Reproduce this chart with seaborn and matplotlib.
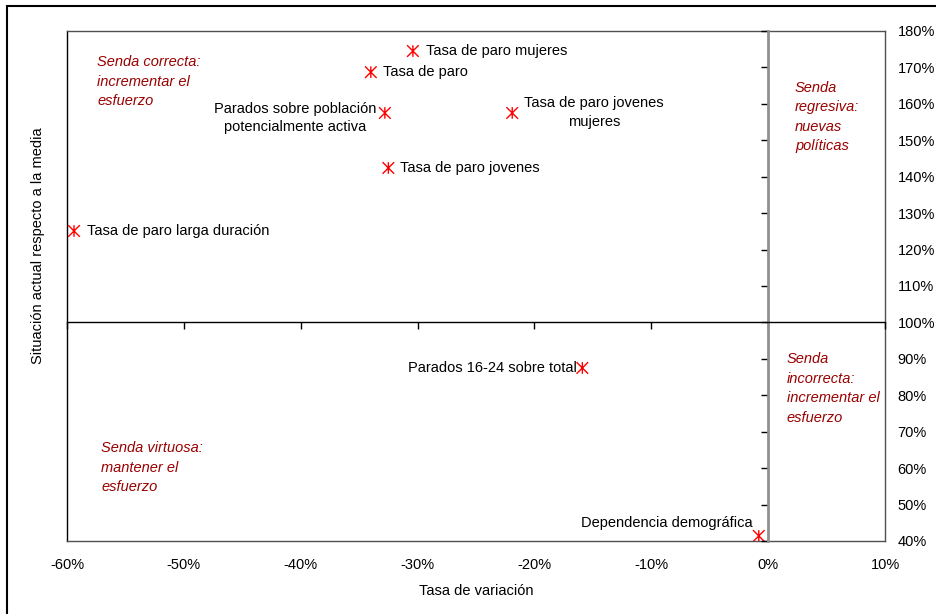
import numpy as np
import pandas as pd
import matplotlib
matplotlib.use("Agg")
import matplotlib.pyplot as plt
import seaborn as sns
from matplotlib.path import Path
from matplotlib.patches import Rectangle
from matplotlib.ticker import PercentFormatter, MultipleLocator

# ---- data ----
indicators = [
    "Tasa de paro mujeres",
    "Tasa de paro",
    "Parados sobre población\npotencialmente activa",
    "Tasa de paro jovenes\nmujeres",
    "Tasa de paro jovenes",
    "Tasa de paro larga duración",
    "Parados 16-24 sobre total",
    "Dependencia demográfica",
]
variation = [-30.4, -34.0, -32.8, -21.9, -32.5, -59.4, -15.9, -0.8]       # Tasa de variación (%)
situation = [174.5, 168.7, 157.5, 157.5, 142.4, 125.1, 87.5, 41.4]        # Situación actual (% media)

quadrant_labels = [
    "Senda correcta:\nincrementar el\nesfuerzo",
    "Senda\nregresiva:\nnuevas\npolíticas",
    "Senda\nincorrecta:\nincrementar el\nesfuerzo",
    "Senda virtuosa:\nmantener el\nesfuerzo",
]
x_label = "Tasa de variación"
y_label = "Situación actual respecto a la media"

# ---- style ----
sns.set_theme(style="white")
plt.rcParams["font.family"] = ["Liberation Sans", "DejaVu Sans"]
plt.rcParams["axes.unicode_minus"] = False
FS = 10.5

df = pd.DataFrame({"indicador": indicators, "x": variation, "y": situation})

fig = plt.figure(figsize=(9.36, 6.14), dpi=100)
pos = [67 / 936, 1 - 541 / 614, 818 / 936, 510 / 614]
ax = fig.add_axes(pos)

star = Path(
    [(-1, -1), (1, 1), (-1, 1), (1, -1), (0, -1), (0, 1)],
    [Path.MOVETO, Path.LINETO, Path.MOVETO, Path.LINETO, Path.MOVETO, Path.LINETO],
)
sns.scatterplot(data=df, x="x", y="y", ax=ax, marker=star, s=70,
                color="red", facecolor="none", edgecolor="red", linewidth=1.0,
                zorder=5, legend=False)

ax.set_xlim(-60, 10)
ax.set_ylim(40, 180)
ax.xaxis.set_major_locator(MultipleLocator(10))
ax.yaxis.set_major_locator(MultipleLocator(10))
ax.xaxis.set_major_formatter(PercentFormatter(100, decimals=0))
ax.yaxis.set_major_formatter(PercentFormatter(100, decimals=0))
ax.yaxis.tick_right()
ax.tick_params(axis="x", length=0, pad=12, labelsize=FS, colors="black")
ax.tick_params(axis="y", length=0, pad=9, labelsize=FS, colors="black",
               left=False, labelleft=False, right=False, labelright=True)
ax.set_xlabel(x_label, fontsize=FS, labelpad=9, color="black")
ax.set_ylabel(y_label, fontsize=FS, color="black")
ax.yaxis.set_label_position("left")
ax.yaxis.set_label_coords(-0.027, 0.58)
for sp in ax.spines.values():
    sp.set_color("#505050")
    sp.set_linewidth(1.0)
ax.spines["left"].set_color("black")

# overlay axes for crossing axis lines at (0%, 100%)
ax2 = fig.add_axes(pos, frameon=True, sharex=ax, sharey=ax)
ax2.patch.set_visible(False)
for s in ["top", "right"]:
    ax2.spines[s].set_visible(False)
ax2.spines["bottom"].set_position(("data", 100))
ax2.spines["left"].set_position(("data", 0))
ax2.spines["bottom"].set_color("black")
ax2.spines["bottom"].set_linewidth(1.0)
ax2.spines["left"].set_color("#909090")
ax2.spines["left"].set_linewidth(2.0)
ax2.tick_params(axis="both", direction="out", length=5, width=1, color="black",
                labelbottom=False, labelleft=False, labelright=False, labeltop=False,
                bottom=True, left=True, right=False, top=False)
ax2.set_xlabel("")
ax2.set_ylabel("")

# point labels
offsets = {
    0: (9.4, 0, "left", "center"),
    1: (8.6, 0, "left", "center"),
    2: (-5.8, -3.6, "right", "center"),
    3: (8.6, 0.5, "left", "center"),
    4: (8.6, 0, "left", "center"),
    5: (9.4, 0, "left", "center"),
    6: (-3.6, 0, "right", "center"),
    7: (-4.3, 9.4, "right", "center"),
}
for i, row in df.iterrows():
    dx, dy, ha, va = offsets[i]
    ax.annotate(row["indicador"], (row["x"], row["y"]), xytext=(dx, dy),
                textcoords="offset points", ha=ha, va=va, multialignment="center",
                fontsize=FS, color="black", linespacing=1.42, zorder=6)

# quadrant annotations
qpos = [(0.0367, 0.952), (0.890, 0.902), (0.880, 0.370), (0.0416, 0.196)]
for txt, (qx, qy) in zip(quadrant_labels, qpos):
    ax.text(qx, qy, txt, transform=ax.transAxes, ha="left", va="top",
            fontsize=FS, style="italic", color="#990000", linespacing=1.5)

# outer chart frame
fig.patches.append(Rectangle((7 / 936, -0.1), 1.2, 1.1 - 6 / 614, transform=fig.transFigure,
                             fill=False, edgecolor="black", linewidth=1.5, clip_on=False))

fig.savefig("out.png", dpi=100)
